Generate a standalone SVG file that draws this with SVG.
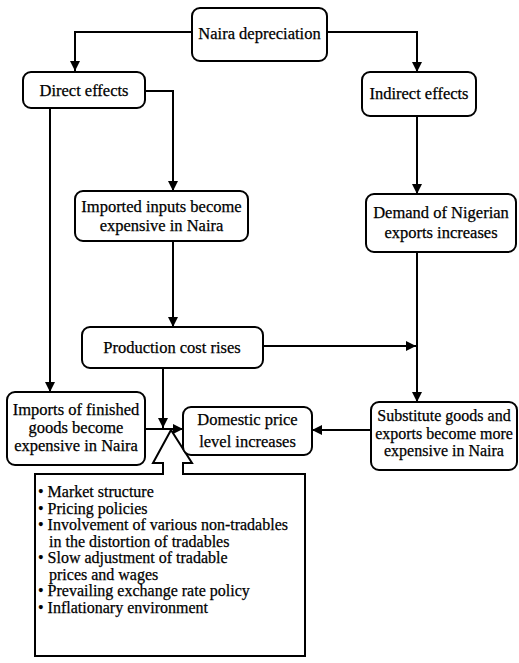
<svg xmlns="http://www.w3.org/2000/svg" width="519" height="663" viewBox="0 0 519 663">
<style>
.box{fill:#fff;stroke:#000;stroke-width:2}
.t{font-family:'Liberation Serif','Times New Roman',Times,serif;font-size:16.5px;fill:#000;stroke:#000;stroke-width:0.25;text-anchor:middle}
.s{font-size:16px}
.b{font-family:'Liberation Serif','Times New Roman',Times,serif;font-size:16px;fill:#000;stroke:#000;stroke-width:0.25}
.c{fill:none;stroke:#000;stroke-width:2;marker-end:url(#ah)}
</style>
<defs>
<marker id="ah" markerUnits="userSpaceOnUse" markerWidth="10" markerHeight="10" viewBox="0 0 10 10" refX="10" refY="5" orient="auto">
<path d="M0,0 L10,5 L0,10 Z" fill="#000"/>
</marker>
</defs>
<rect width="519" height="663" fill="#fff"/>
<g id="connectors">
<path class="c" d="M192,32 H75 V71"/>
<path class="c" d="M327,32 H417 V72"/>
<path class="c" d="M145,91 H173 V191"/>
<path class="c" d="M50,108 V392"/>
<path class="c" d="M417,115 V194"/>
<path class="c" d="M173,241 V327"/>
<path class="c" d="M417,252 V402"/>
<path class="c" d="M263,346 H416"/>
<path class="c" d="M163,368 V428"/>
<path class="c" d="M145,429 H183"/>
<path class="c" d="M371,430 H312"/>
</g>
<g id="callout">
<path class="box" d="M35,474 H163 V463 H153 L171,430 L192,463 H183 V474 H305 V656 H35 Z"/>
<text class="b" x="38" y="497">• Market structure</text>
<text class="b" x="38" y="513.5">• Pricing policies</text>
<text class="b" x="38" y="530">• Involvement of various non-tradables</text>
<text class="b" x="49" y="546.5">in the distortion of tradables</text>
<text class="b" x="38" y="563">• Slow adjustment of tradable</text>
<text class="b" x="49" y="579.5">prices and wages</text>
<text class="b" x="38" y="596">• Prevailing exchange rate policy</text>
<text class="b" x="38" y="612.5">• Inflationary environment</text>
</g>
<g id="naira">
<rect class="box" x="192" y="8" width="135" height="53" rx="8"/>
<text class="t" x="259.5" y="39">Naira depreciation</text>
</g>
<g id="direct">
<rect class="box" x="23" y="72" width="122" height="36" rx="8"/>
<text class="t" x="84" y="96">Direct effects</text>
</g>
<g id="indirect">
<rect class="box" x="362" y="72" width="114" height="44" rx="8"/>
<text class="t" x="419" y="99">Indirect effects</text>
</g>
<g id="imported">
<rect class="box" x="75" y="191" width="173" height="50" rx="8"/>
<text class="t" x="161.5" y="212">Imported inputs become</text>
<text class="t" x="161.5" y="231">expensive in Naira</text>
</g>
<g id="demand">
<rect class="box" x="366" y="194" width="150" height="58" rx="8"/>
<text class="t" x="441" y="218">Demand of Nigerian</text>
<text class="t" x="441" y="238">exports increases</text>
</g>
<g id="production">
<rect class="box" x="82" y="327" width="181" height="41" rx="8"/>
<text class="t" x="172" y="353">Production cost rises</text>
</g>
<g id="imports">
<rect class="box" x="7" y="392" width="138" height="73" rx="8"/>
<text class="t" x="76" y="415">Imports of finished</text>
<text class="t" x="76" y="433">goods become</text>
<text class="t" x="76" y="451">expensive in Naira</text>
</g>
<g id="domestic">
<rect class="box" x="183" y="407" width="129" height="48" rx="8"/>
<text class="t" x="247.5" y="425">Domestic price</text>
<text class="t" x="247.5" y="447">level increases</text>
</g>
<g id="substitute">
<rect class="box" x="371" y="402" width="146" height="68" rx="8"/>
<text class="t s" x="444" y="421">Substitute goods and</text>
<text class="t s" x="444" y="438.5">exports become more</text>
<text class="t s" x="444" y="456">expensive in Naira</text>
</g>
</svg>
